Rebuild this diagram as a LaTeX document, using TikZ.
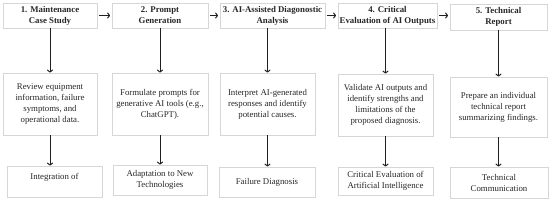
\documentclass[tikz,border=0pt]{standalone}
\usepackage{fontspec}
\setmainfont{Liberation Serif}
\usetikzlibrary{arrows.meta}
\begin{document}
\begin{tikzpicture}[x=1pt,y=-1pt,
  box/.style={draw=black!16, line width=0.8pt, align=center, inner sep=1pt,
    font=\fontsize{8.8}{11}\selectfont, text=black!85},
  head/.style={box, font=\bfseries\fontsize{8.8}{11}\selectfont},
  arr/.style={draw=black!88, line width=1pt, -{To[length=3pt,width=6pt]}}]
\useasboundingbox (0,0) rectangle (550,203);
% top row
\node[head, minimum width=94pt, minimum height=25pt] (t1) at (50,15.5) {1. Maintenance\\Case Study};
\node[head, minimum width=96pt, minimum height=25pt] (t2) at (160,15.5) {2. Prompt\\Generation};
\node[head, minimum width=105pt, minimum height=25pt] (t3) at (272.5,15.5) {3. AI-Assisted Diagonostic\\Analysis};
\node[head, minimum width=99pt, minimum height=25pt] (t4) at (387.5,15.5) {4. Critical\\Evaluation of AI Outputs};
\node[head, minimum width=97pt, minimum height=26pt] (t5) at (498.5,17) {5. Technical\\Report};
% middle row
\node[box, minimum width=94pt, minimum height=62pt] (m1) at (50,104) {Review equipment\\information, failure\\symptoms, and\\operational data.};
\node[box, minimum width=96pt, minimum height=62pt] (m2) at (160,104) {Formulate prompts for\\generative AI tools (e.g.,\\ChatGPT).};
\node[box, minimum width=95pt, minimum height=62pt] (m3) at (267.5,104) {Interpret AI-generated\\responses and identify\\potential causes.};
\node[box, minimum width=95pt, minimum height=62pt] (m4) at (385.5,105) {Validate AI outputs and\\identify strengths and\\limitations of the\\proposed diagnosis.};
\node[box, minimum width=97pt, minimum height=60pt] (m5) at (498.5,107) {Prepare an individual\\technical report\\summarizing findings.};
% bottom row
\node[box, minimum width=95pt, minimum height=31pt] (b1) at (54.5,181.5) {Integration of\\\mbox{}};
\node[box, minimum width=94pt, minimum height=30pt] (b2) at (160,180) {Adaptation to New\\Technologies};
\node[box, minimum width=96pt, minimum height=30pt] (b3) at (267,182) {Failure Diagnosis};
\node[box, minimum width=95pt, minimum height=28pt] (b4) at (385.5,181) {Critical Evaluation of\\Artificial Intelligence};
\node[box, minimum width=98pt, minimum height=31pt] (b5) at (499,182.5) {Technical\\Communication};
% horizontal arrows
\foreach \a/\b in {t1/t2,t2/t3,t3/t4,t4/t5}
  \draw[arr, shorten <=1.5pt, shorten >=1.5pt] (\a.east |- 0,15.5) -- (\b.west |- 0,15.5);
% vertical arrows
\foreach \i in {1,...,5}{
  \draw[arr] (t\i.south -| m\i.north) -- (m\i.north);
  \draw[arr] (m\i.south) -- (m\i.south |- b\i.north);
}
\end{tikzpicture}
\end{document}
